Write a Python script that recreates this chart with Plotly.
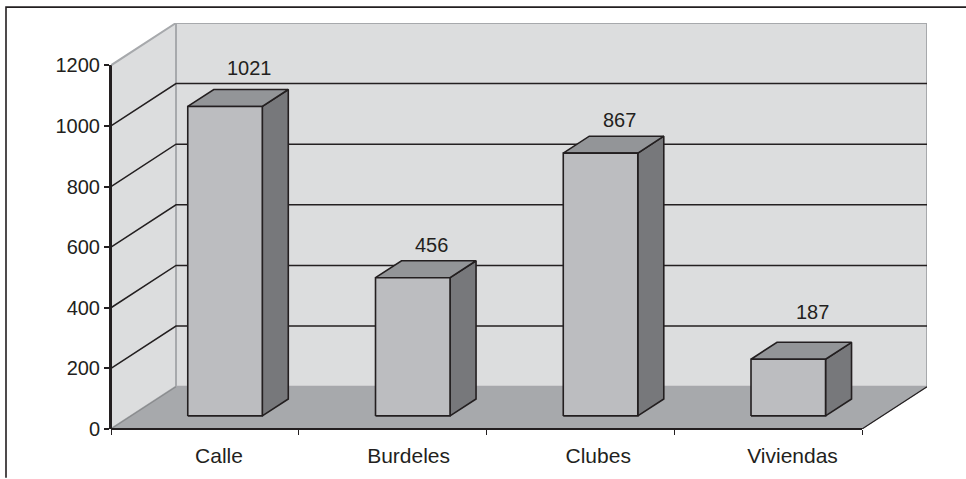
import plotly.graph_objects as go

categories = ["Calle", "Burdeles", "Clubes", "Viviendas"]
values = [1021, 456, 867, 187]
y_ticks = [0, 200, 400, 600, 800, 1000, 1200]

# Layout geometry (pixels in the 966x479 page)
L, R, T, B = 111, 927, 22, 430
FRONT_W = 751.0          # width of the front floor edge
FRONT_H = 365.5          # height of 0..1200 on the front plane
DEPTH_X = (R - L - FRONT_W) / (FRONT_W / len(categories))   # depth in category units
Y_MAX_FRONT = 1200
DEPTH_Y = (B - T - FRONT_H) / FRONT_H * Y_MAX_FRONT          # depth in value units
BAR_W = 0.397
D0, D1 = 0.31, 0.71
LABEL_SHIFT_X = [0.075, 0.085, 0.095, 0.13]
VALUE_OFFS = [(24, 38), (19, 33), (19, 33), (24, 47)]

INK = "#231f20"
WALL = "#dcddde"
EDGE = "#a7a9ac"
FLOOR = "#a7a9ac"
FRONT = "#bcbdc0"
SIDE = "#77787b"
TOP = "#939598"
FONT = dict(family="Liberation Sans, Arial, sans-serif", size=20, color="#231f20")
XFONT = dict(family="Liberation Sans, Arial, sans-serif", size=21, color="#231f20")


def p(x, v, d=0.0):
    """Project a (category position, value, depth fraction) onto the axes."""
    return x + d * DEPTH_X, v + d * DEPTH_Y


fig = go.Figure()


def poly(pts, fill=None, color=INK, width=1.0, close=True):
    pts = list(pts)
    if close:
        pts = pts + [pts[0]]
    fig.add_trace(go.Scatter(
        x=[a for a, _ in pts], y=[b for _, b in pts], mode="lines",
        fill="toself" if fill else "none", fillcolor=fill,
        line=dict(color=color, width=width),
        hoverinfo="skip", showlegend=False, cliponaxis=False))


n = len(categories)
# back wall, side wall, floor
poly([p(0, 0, 1), p(n, 0, 1), p(n, 1200, 1), p(0, 1200, 1)], fill=WALL, color=EDGE, width=2)
poly([p(0, 0), p(0, 0, 1), p(0, 1200, 1), p(0, 1200)], fill=WALL, color=EDGE, width=2)
poly([p(0, 0), p(n, 0), p(n, 0, 1), p(0, 0, 1)], fill=FLOOR, color=FLOOR, width=1)
poly([p(0, 0), p(0, 0, 1)], color="#8a8c8e", width=1.2, close=False)

# gridlines
for t in y_ticks[1:-1]:
    poly([p(0, t), p(0, t, 1), p(n, t, 1)], color=INK, width=1.5, close=False)

# right edge of the floor
poly([p(n, 0), p(n, 0, 1)], color=INK, width=1.2, close=False)

# bars
for i, v in enumerate(values):
    x0 = i + 0.5 - BAR_W / 2
    x1 = i + 0.5 + BAR_W / 2
    poly([p(x1, 0, D0), p(x1, 0, D1), p(x1, v, D1), p(x1, v, D0)], fill=SIDE, width=1.6)
    poly([p(x0, v, D0), p(x1, v, D0), p(x1, v, D1), p(x0, v, D1)], fill=TOP, width=1.6)
    poly([p(x0, 0, D0), p(x1, 0, D0), p(x1, v, D0), p(x0, v, D0)], fill=FRONT, width=1.6)
    ax, ay = p(i + 0.5, v, D0)
    dx, dy = VALUE_OFFS[i]
    fig.add_annotation(x=ax, y=ay, text=str(v), showarrow=False, xshift=dx,
                       yshift=dy, font=FONT)

# front-plane value axis: spans 0..1200 only, so it needs its own shorter domain
fig.add_trace(go.Scatter(x=[0, 0], y=[0, 1200], yaxis="y2", mode="lines",
                         line=dict(color=INK, width=2), hoverinfo="skip",
                         showlegend=False, cliponaxis=False))

frame_x = (6 - L) / (R - L)
frame_x1 = (966 - L) / (R - L)
frame_y = (B - 6) / (B - T)
frame_y0 = (B - 479) / (B - T)

fig.update_layout(
    width=966, height=479, autosize=False,
    margin=dict(l=L, r=966 - R, t=T, b=479 - B, pad=0),
    paper_bgcolor="white", plot_bgcolor="rgba(0,0,0,0)", showlegend=False,
    font=FONT,
    shapes=[
        dict(type="path", xref="paper", yref="paper",
             path=f"M {frame_x} {frame_y0} L {frame_x} {frame_y} L {frame_x1} {frame_y}",
             line=dict(color=INK, width=1.6)),
        dict(type="line", xref="x", yref="paper", x0=0, x1=n, y0=0, y1=0,
             line=dict(color=INK, width=2.2)),
    ],
    xaxis=dict(range=[0, n + DEPTH_X], showgrid=False, zeroline=False, showline=False,
               tickmode="array",
               tickvals=[i + 0.5 + LABEL_SHIFT_X[i] for i in range(n)],
               ticktext=categories, ticks="outside", ticklen=0, tickfont=XFONT,
               ticklabelstandoff=8,
               minor=dict(tickmode="array", tickvals=list(range(n + 1)), ticks="outside",
                          ticklen=5, tickwidth=1.3, tickcolor=INK, showgrid=False)),
    yaxis=dict(range=[0, 1200 + DEPTH_Y], visible=False),
    yaxis2=dict(domain=[0, 1200 / (1200 + DEPTH_Y)], range=[0, 1200], anchor="x",
                showgrid=False, zeroline=False, showline=True, linecolor=INK, linewidth=2,
                tickmode="array", tickvals=y_ticks, ticktext=[str(t) for t in y_ticks],
                ticks="outside", ticklen=5, tickwidth=1.5, tickcolor=INK, tickfont=FONT,
                ticklabelstandoff=0),
)

fig.write_html("out.html", config={"displayModeBar": False},
               post_script="document.body.style.margin='0';document.body.style.overflow='hidden';")
